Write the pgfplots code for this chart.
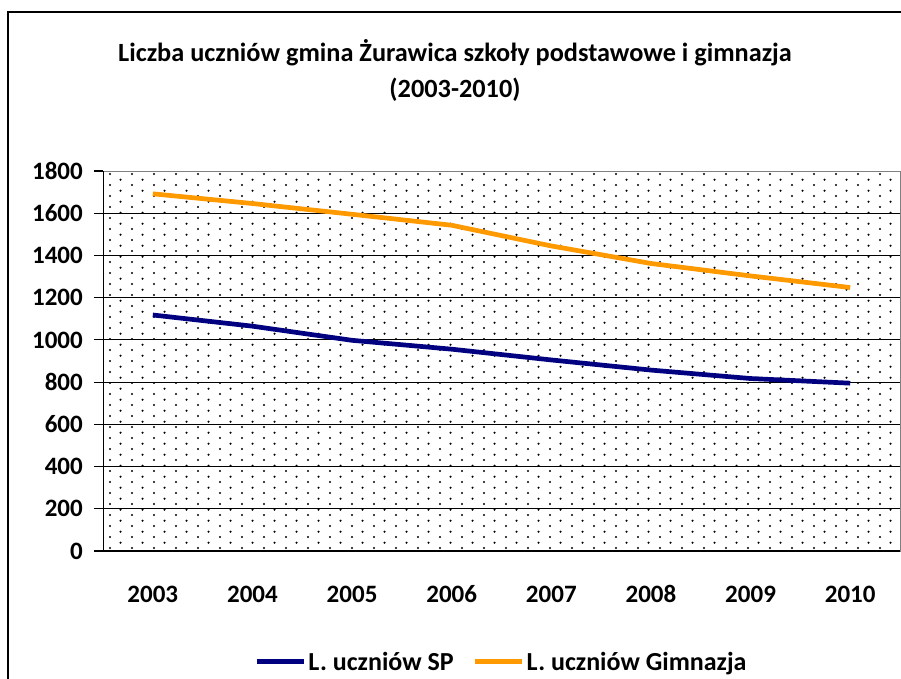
\documentclass[border=0pt]{standalone}
\usepackage{pgfplots}
\pgfplotsset{compat=1.18}
\usepackage{fontspec}
\setmainfont{Carlito}
\usetikzlibrary{patterns}
\definecolor{spnavy}{RGB}{0,0,128}
\definecolor{gimorange}{RGB}{255,153,0}
\pgfdeclarepatternformonly{exceldots}{\pgfpointorigin}{\pgfpoint{21.6pt}{10.8pt}}{\pgfpoint{21.6pt}{10.8pt}}{%
  \pgfpathcircle{\pgfpoint{2pt}{2pt}}{1.2pt}%
  \pgfpathcircle{\pgfpoint{12.8pt}{7.4pt}}{1.2pt}%
  \pgfusepath{fill}%
}
\begin{document}
\begin{tikzpicture}
\useasboundingbox (0pt,0pt) rectangle (901pt,-679pt);
\fill[white] (0pt,0pt) rectangle (901pt,-679pt);
\draw[black, line width=1.4pt] (8pt,-1000pt) -- (8pt,-12pt) -- (1000pt,-12pt);
\node[align=center, font=\fontsize{26.3}{36}\selectfont\bfseries] at (455pt,-70pt)
  {Liczba uczniów gmina Żurawica szkoły podstawowe i gimnazja\\(2003-2010)};
\begin{axis}[
  at={(103pt,-551pt)}, anchor=south west,
  scale only axis, width=797pt, height=380pt,
  xmin=-0.5, xmax=7.5, ymin=0, ymax=1800,
  xtick={0,...,7},
  xticklabels={2003,2004,2005,2006,2007,2008,2009,2010},
  minor xtick={-0.5,0.5,...,7.5},
  ytick={0,200,...,1800},
  yticklabels={0,200,400,600,800,1000,1200,1400,1600,1800},
  tick align=outside, tick pos=left,
  major tick length=9pt, minor tick length=9pt,
  xtick style={draw=none},
  minor tick style={black, line width=1.2pt},
  ytick style={black, line width=1.2pt},
  /pgf/number format/assume math mode=true,
  ticklabel style={font=\fontsize{25}{28}\selectfont\bfseries, inner sep=0pt},
  x tick label style={anchor=north, text height=17pt, text depth=0pt, yshift=-25pt},
  y tick label style={anchor=east, xshift=-11pt},
  ymajorgrids, grid style={black, line width=1pt},
  axis line style={black!50, line width=1pt},
  axis background/.style={pattern=exceldots, pattern color=black},
  legend columns=2,
  legend style={draw=none, fill=none, at={(0.5,-0.292)}, anchor=center,
    font=\fontsize{26}{28}\selectfont\bfseries,
    /tikz/every even column/.append style={column sep=17pt}},
  legend image code/.code={\draw[#1, line width=5pt] (0pt,0pt) -- (47pt,0pt);},
]
\addplot[spnavy, line width=4.7pt, sharp plot] coordinates {
  (0,1118) (1,1065) (2,998) (3,956) (4,905) (5,857) (6,817) (7,795)};
\addlegendentry{L. uczniów SP}
\addplot[gimorange, line width=4.7pt, sharp plot] coordinates {
  (0,1692) (1,1646) (2,1595) (3,1543) (4,1445) (5,1362) (6,1303) (7,1248)};
\addlegendentry{L. uczniów Gimnazja}
\draw[black, line width=1.4pt] (rel axis cs:0,1) -- (rel axis cs:0,0) -- (rel axis cs:1,0);
\end{axis}
\end{tikzpicture}
\end{document}
